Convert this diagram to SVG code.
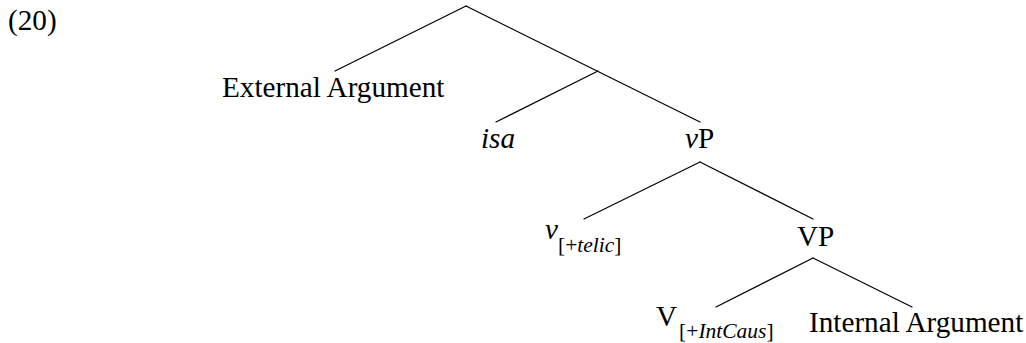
<svg xmlns="http://www.w3.org/2000/svg" width="1026" height="343" viewBox="0 0 1026 343">
<style>
text{font-family:"Liberation Serif","Times New Roman",serif;fill:#000;font-size:29.2px}
.it{font-style:italic}
.sub{font-size:21.5px}
.edge{stroke:#000;stroke-width:1.2;fill:none;stroke-linecap:round}
</style>
<rect width="1026" height="343" fill="#fff"/>
<g id="label"><text x="8" y="30">(20)</text></g>
<g id="connectors">
<line class="edge" x1="466" y1="6" x2="335" y2="71"/>
<line class="edge" x1="466" y1="6" x2="700" y2="122"/>
<line class="edge" x1="598" y1="71" x2="496" y2="122"/>
<line class="edge" x1="700" y1="162" x2="584" y2="219"/>
<line class="edge" x1="700" y1="162" x2="813" y2="219"/>
<line class="edge" x1="813" y1="258" x2="716" y2="307"/>
<line class="edge" x1="813" y1="258" x2="912" y2="307"/>
</g>
<g id="ext"><text x="222" y="97">External Argument</text></g>
<g id="isa"><text class="it" x="481" y="148">isa</text></g>
<g id="vP"><text x="685" y="148"><tspan class="it">v</tspan>P</text></g>
<g id="v"><text x="545" y="239"><tspan class="it">v</tspan><tspan class="sub" y="252">[+<tspan class="it">telic</tspan>]</tspan></text></g>
<g id="VP"><text x="797" y="246">VP</text></g>
<g id="V"><text x="656" y="326">V<tspan class="sub" y="338" dx="2">[+<tspan class="it">IntCaus</tspan>]</tspan></text></g>
<g id="int"><text x="809" y="332">Internal Argument</text></g>
</svg>
